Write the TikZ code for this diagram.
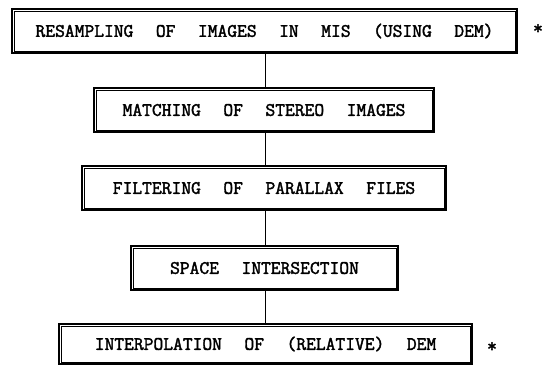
\documentclass[tikz,border=0pt]{standalone}
\usepackage{fontspec}
\newfontfamily\typew[FakeBold=2,WordSpace={2.3,0,0}]{Latin Modern Mono}
\begin{document}
\begin{tikzpicture}[x=1pt,y=-1pt,
  box/.style={draw=black,line width=1.3pt,inner sep=0pt,minimum height=44pt,
    font={\typew\fontsize{19}{22}\selectfont},text=black},
  link/.style={draw=black,line width=0.9pt},
  starmark/.style={inner sep=0pt,font={\typew\fontsize{19}{22}\selectfont}}]
\useasboundingbox (0,0) rectangle (557,365);
\node[box,minimum width=505pt] (b1) at (264.5,31) {RESAMPLING OF IMAGES IN MIS (USING DEM)};
\node[box,minimum width=340pt] (b2) at (264,110) {MATCHING OF STEREO IMAGES};
\node[box,minimum width=364pt] (b3) at (264,188) {FILTERING OF PARALLAX FILES};
\node[box,minimum width=267pt] (b4) at (264.5,268) {SPACE INTERSECTION};
\node[box,minimum width=413pt,minimum height=40pt] (b5) at (265.5,344) {INTERPOLATION OF (RELATIVE) DEM};
\foreach \n in {b1,b2,b3,b4,b5}
  \draw[line width=0.6pt] ([shift={(2.6,2.6)}]\n.north west) rectangle ([shift={(-2.6,-2.6)}]\n.south east);
\node[starmark] (s1) at (538,29) {*};
\node[starmark] (s2) at (492,347) {*};
\coordinate (x) at (265,0);
\draw[link] (b1.south -| x) -- (b2.north -| x);
\draw[link] (b2.south -| x) -- (b3.north -| x);
\draw[link] (b3.south -| x) -- (b4.north -| x);
\draw[link] (b4.south -| x) -- (b5.north -| x);
\end{tikzpicture}
\end{document}
